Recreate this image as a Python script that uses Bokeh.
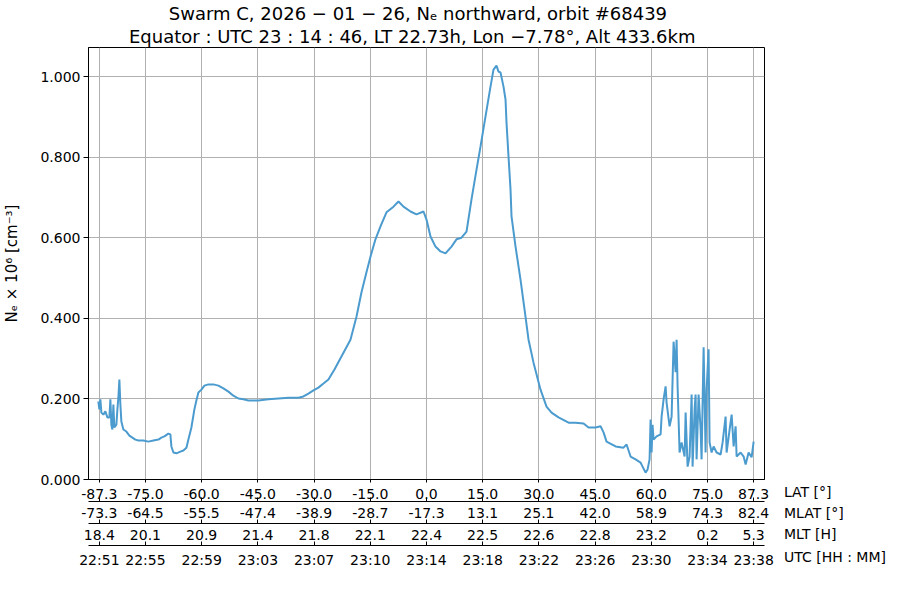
from bokeh.plotting import figure
from bokeh.models import Range1d, LinearAxis, FixedTicker, NumeralTickFormatter, Title, Grid, Div
from bokeh.layouts import row
from bokeh.embed import file_html
from bokeh.resources import INLINE

# latitude [deg] along the pass and electron density [1e6 cm^-3]
lat = [-87.57, -87.30, -87.03, -86.77, -86.23, -85.70, -85.16, -84.63, -84.36, -84.10,
       -83.83, -83.56, -83.30, -82.76, -82.49, -82.23, -81.96, -81.69, -81.43, -80.89,
       -80.09, -79.29, -78.49, -77.69, -76.89, -75.55, -74.22, -72.88, -71.55, -70.75,
       -69.95, -68.88, -68.35, -68.08, -67.54, -66.74, -65.68, -64.88, -64.07, -63.54,
       -62.74, -61.94, -61.41, -60.87, -60.07, -59.27, -58.20, -56.87, -55.53, -54.20,
       -52.86, -51.53, -50.19, -48.86, -47.52, -44.85, -42.18, -39.51, -36.85, -34.18,
       -32.84, -31.51, -30.17, -28.84, -27.50, -26.17, -24.56, -22.70, -20.29, -18.69,
       -17.36, -16.02, -14.95, -13.62, -12.28, -10.68, -8.81, -7.48, -6.14, -4.27,
       -2.67, -0.80, 0.00, 1.07, 2.40, 3.74, 5.07, 6.67, 8.01, 9.34,
       10.68, 12.01, 13.35, 14.41, 15.75, 17.08, 17.88, 18.68, 19.22, 19.75,
       20.55, 21.09, 21.35, 21.89, 22.42, 22.69, 23.76, 25.09, 26.16, 27.23,
       28.56, 30.43, 32.03, 33.37, 35.24, 37.91, 39.78, 41.91, 43.25, 45.12,
       46.45, 47.25, 48.05, 50.46, 52.59, 53.39, 54.46, 55.79, 57.13, 58.46,
       59.00, 59.53, 59.80, 60.07, 60.33, 60.60, 61.40, 62.47, 62.74, 63.27,
       63.81, 64.07, 64.87, 65.41, 65.94, 66.48, 66.74, 67.01, 67.54, 68.08,
       68.88, 69.15, 69.68, 70.21, 70.75, 71.01, 71.55, 71.81, 72.08, 72.61,
       73.15, 73.41, 73.95, 74.48, 74.75, 75.28, 75.55, 76.08, 76.62, 77.42,
       78.49, 79.02, 79.82, 80.09, 80.89, 81.43, 81.96, 82.49, 82.76, 83.83,
       84.63, 85.16, 85.96, 86.76, 87.30]
ne = [0.194, 0.174, 0.199, 0.166, 0.161, 0.169, 0.154, 0.154, 0.199, 0.136,
      0.124, 0.186, 0.129, 0.136, 0.174, 0.203, 0.248, 0.186, 0.144, 0.124,
      0.119, 0.109, 0.104, 0.099, 0.097, 0.097, 0.094, 0.097, 0.099, 0.104,
      0.107, 0.114, 0.112, 0.082, 0.067, 0.065, 0.069, 0.072, 0.079, 0.099,
      0.129, 0.174, 0.196, 0.216, 0.223, 0.233, 0.236, 0.236, 0.233, 0.226,
      0.218, 0.208, 0.201, 0.199, 0.196, 0.196, 0.199, 0.201, 0.203, 0.203,
      0.206, 0.213, 0.221, 0.228, 0.238, 0.248, 0.273, 0.305, 0.347, 0.404,
      0.464, 0.514, 0.553, 0.596, 0.628, 0.663, 0.677, 0.690, 0.677, 0.665,
      0.658, 0.665, 0.645, 0.603, 0.578, 0.566, 0.561, 0.578, 0.596, 0.600,
      0.615, 0.695, 0.769, 0.826, 0.901, 0.975, 1.017, 1.027, 1.012, 1.010,
      0.975, 0.943, 0.886, 0.801, 0.720, 0.653, 0.578, 0.496, 0.422, 0.347,
      0.290, 0.223, 0.181, 0.166, 0.154, 0.141, 0.141, 0.139, 0.129, 0.129,
      0.132, 0.117, 0.094, 0.082, 0.079, 0.087, 0.057, 0.050, 0.042, 0.017,
      0.025, 0.050, 0.149, 0.067, 0.136, 0.099, 0.107, 0.112, 0.156, 0.199,
      0.231, 0.191, 0.132, 0.156, 0.342, 0.266, 0.347, 0.231, 0.067, 0.092,
      0.057, 0.166, 0.032, 0.057, 0.211, 0.032, 0.174, 0.211, 0.050, 0.211,
      0.124, 0.050, 0.328, 0.067, 0.223, 0.323, 0.092, 0.067, 0.082, 0.067,
      0.062, 0.092, 0.156, 0.067, 0.124, 0.161, 0.082, 0.132, 0.057, 0.067,
      0.057, 0.037, 0.067, 0.055, 0.094]

tick_lat = [-87.3, -75.0, -60.0, -45.0, -30.0, -15.0, 0.0, 15.0, 30.0, 45.0, 60.0, 75.0, 87.3]
lat_labels = ["-87.3", "-75.0", "-60.0", "-45.0", "-30.0", "-15.0", "0.0", "15.0", "30.0",
              "45.0", "60.0", "75.0", "87.3"]
mlat_labels = ["-73.3", "-64.5", "-55.5", "-47.4", "-38.9", "-28.7", "-17.3", "13.1", "25.1",
               "42.0", "58.9", "74.3", "82.4"]
mlt_labels = ["18.4", "20.1", "20.9", "21.4", "21.8", "22.1", "22.4", "22.5", "22.6",
              "22.8", "23.2", "0.2", "5.3"]
utc_labels = ["22:51", "22:55", "22:59", "23:03", "23:07", "23:10", "23:14", "23:18", "23:22",
              "23:26", "23:30", "23:34", "23:38"]
row_names = ["LAT [°]", "MLAT [°]", "MLT [H]", "UTC [HH : MM]"]
y_ticks = [0.0, 0.2, 0.4, 0.6, 0.8, 1.0]

title1 = "Swarm C,  2026 − 01 − 26,  Nₑ northward,  orbit #68439"
title2 = "Equator :  UTC 23 : 14 : 46,  LT 22.73h,  Lon  −7.78°,  Alt 433.6km"
ylabel = "Nₑ × 10⁶ [cm⁻³]"

FONT = "DejaVu Sans"
LINE_COLOR = "#4b9bcf"

p = figure(frame_width=676, frame_height=432,
           x_range=Range1d(-90.2, 90.2), y_range=Range1d(0, 1.072),
           output_backend="svg", toolbar_location=None, title=None,
           x_axis_type=None,
           min_border_left=82, min_border_right=20, min_border_top=0, min_border_bottom=100,
           background_fill_color="white", border_fill_color="white")
p.outline_line_color = "black"
p.outline_line_width = 1
p.outline_line_alpha = 1

# y axis
ya = p.yaxis[0]
ya.ticker = FixedTicker(ticks=y_ticks)
ya.formatter = NumeralTickFormatter(format="0.000")
ya.axis_label = ylabel
ya.axis_label_text_font = FONT
ya.axis_label_text_font_size = "15px"
ya.axis_label_text_font_style = "normal"
ya.axis_label_text_color = "black"
ya.axis_label_standoff = 16
ya.major_label_text_font = FONT
ya.major_label_text_font_size = "14px"
ya.major_label_text_color = "black"
ya.major_label_standoff = 3
ya.major_tick_out = 5
ya.major_tick_in = 0
ya.minor_tick_out = 0
ya.minor_tick_in = 0
ya.axis_line_color = "black"
ya.major_tick_line_color = "black"
p.ygrid.ticker = FixedTicker(ticks=y_ticks)
p.ygrid.grid_line_color = "#b0b0b0"
p.ygrid.grid_line_width = 1

p.add_layout(Grid(dimension=0, ticker=FixedTicker(ticks=tick_lat),
                  grid_line_color="#b0b0b0", grid_line_width=1))

def make_axis(labels, tick_in, tick_out, standoff, pad=None, pad_standoff=0):
    kw = {}
    if pad is not None:
        kw = dict(axis_label=" ", axis_label_text_font_size=pad,
                  axis_label_standoff=pad_standoff)
    return LinearAxis(
        ticker=FixedTicker(ticks=tick_lat),
        major_label_overrides={t: l for t, l in zip(tick_lat, labels)},
        major_label_text_font=FONT, major_label_text_font_size="14px",
        major_label_text_color="black", major_label_standoff=standoff,
        major_tick_in=tick_in, major_tick_out=tick_out,
        minor_tick_in=0, minor_tick_out=0,
        axis_line_color="black", major_tick_line_color="black", **kw)

p.add_layout(make_axis(lat_labels, 0, 3, 6), "below")
p.add_layout(make_axis(mlat_labels, 4, 0, 6, "1px", -1), "below")
p.add_layout(make_axis(mlt_labels, 4, 0, 6, "1px", -1), "below")
p.add_layout(make_axis(utc_labels, 4, 0, 6, "1px", -1), "below")

p.line(lat, ne, line_color=LINE_COLOR, line_width=2)

p.add_layout(Title(text=title2, align="center", text_font=FONT, text_font_size="18px",
                   text_font_style="normal", text_color="black", standoff=1, offset=0), "above")
p.add_layout(Title(text=title1, align="center", text_font=FONT, text_font_size="18px",
                   text_font_style="normal", text_color="black", standoff=0, offset=0), "above")

# row names to the right of the stacked axes
tops = [484, 505, 526, 549]
names_html = "".join(
    f'<div style="position:absolute;left:0px;top:{t}px;white-space:nowrap;">{n}</div>'
    for n, t in zip(row_names, tops))
div = Div(text=(f'<div style="position:relative;width:106px;height:584px;'
                f'font-family:\'DejaVu Sans\';font-size:14px;line-height:16px;color:black;">'
                f'{names_html}</div>'),
          width=106, height=584, margin=0)

layout = row(p, div)
open("out.html", "w").write(file_html(layout, INLINE))
